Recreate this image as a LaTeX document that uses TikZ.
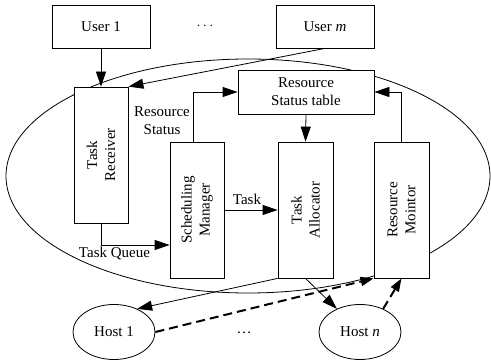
\documentclass[tikz,border=0pt]{standalone}
\usepackage{fontspec}
\setmainfont{Liberation Serif}
\usetikzlibrary{arrows.meta,shapes.geometric}
\begin{document}
\begin{tikzpicture}[x=1pt,y=-1pt,
  font=\fontsize{15}{18}\selectfont,
  box/.style={draw,fill=white,line width=0.8pt,inner sep=0pt,align=center},
  vbox/.style={box,minimum width=136pt,minimum height=54pt,rotate=90},
  host/.style={draw,fill=white,ellipse,line width=0.8pt,minimum width=82pt,minimum height=55pt,inner sep=0pt},
  arr/.style={line width=0.8pt,-{Triangle[length=15pt,width=10pt]}},
  darr/.style={line width=2pt,dash pattern=on 9pt off 5pt,-{Triangle[length=13pt,width=9pt]}},
  lbl/.style={align=center,inner sep=0pt}]
\useasboundingbox (0,0) rectangle (491,363);
\draw[line width=0.8pt] (248,176) ellipse [x radius=242pt, y radius=117pt];
\node[box,minimum width=98pt,minimum height=43pt] (u1) at (101,26.5) {User 1};
\node[box,minimum width=98pt,minimum height=43pt] (um) at (325,26.5) {User \textit{m}};
\node[lbl] (dtop) at (205,26) {$\cdots$};
\node[vbox] (recv) at (101,155) {Task\\Receiver};
\node[box,minimum width=136pt,minimum height=44pt] (table) at (306,92) {Resource\\Status table};
\node[vbox] (sched) at (197,210) {Scheduling\\Manager};
\node[vbox,minimum height=55pt] (alloc) at (305.5,210) {Task\\Allocator};
\node[vbox,minimum height=55pt] (mon) at (401.5,210) {Resource\\Mointor};
\node[host] (h1) at (114,332) {Host 1};
\node[host] (hn) at (360,332) {Host \textit{n}};
\node[lbl] (dbot) at (244,333) {\ldots};
\node[lbl] (rs) at (162,121) {Resource\\Status};
\node[lbl] (tk) at (247,199) {Task};
\node[lbl] (tq) at (114.5,254) {Task Queue};
\draw[arr] (u1.south) -- (recv.east);
\draw[arr] (um.south) -- (recv.south east);
\draw[arr] ([xshift=-4pt]sched.east) |- (table.west);
\draw[arr] (table.south) -- (alloc.east);
\draw[arr] (mon.east) |- (table.east);
\draw[arr] (sched.south) -- (alloc.north);
\draw[arr] (recv.west) |- ([yshift=-35pt]sched.north);
\draw[arr] (alloc.north west) -- (h1.45);
\draw[arr] (alloc.west) -- (hn.135);
\draw[darr] (h1.east) -- (mon.north west);
\draw[darr] (hn.45) -- (mon.west);
\end{tikzpicture}
\end{document}
